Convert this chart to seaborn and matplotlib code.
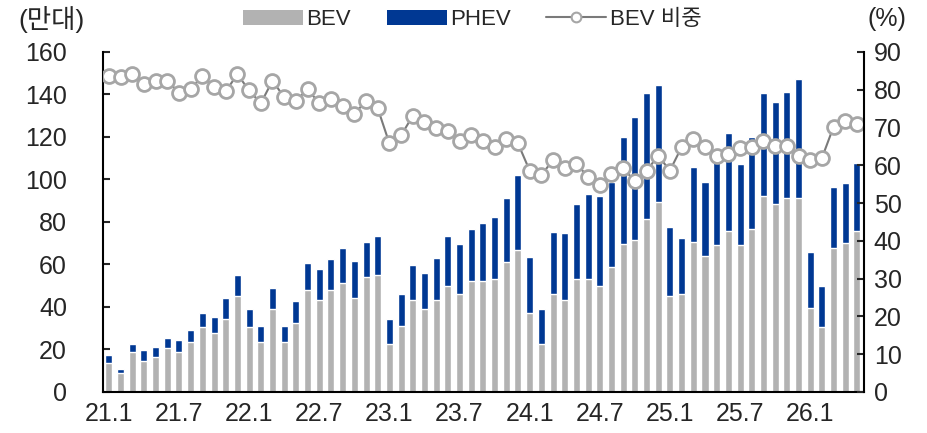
import matplotlib
matplotlib.use("Agg")
import matplotlib.pyplot as plt
from matplotlib.lines import Line2D
from matplotlib.patches import Patch
import numpy as np
import pandas as pd
import seaborn as sns

# monthly China EV sales, 10k units (만대)
years = [21, 22, 23, 24, 25, 26]
months = [f"{y}.{m}" for y in years for m in range(1, 13)][:65]

bev = [13.8, 8.8, 18.7, 14.7, 16.6, 20.5, 18.7, 23.5, 30.4, 27.6, 34.4, 45.2,
       30.4, 23.5, 39.2, 23.4, 32.3, 48.0, 43.3, 48.0, 51.1, 44.1, 54.0, 55.1,
       22.6, 31.2, 43.3, 39.2, 43.3, 50.0, 46.1, 52.1, 52.1, 53.2, 61.0, 66.8,
       37.3, 22.6, 46.1, 43.3, 53.2, 53.2, 50.0, 59.0, 69.6, 71.5, 81.4, 89.3,
       45.2, 46.1, 70.7, 64.0, 68.9, 75.8, 68.9, 76.7, 92.4, 88.5, 91.4, 91.4,
       39.4, 30.4, 67.9, 70.0, 75.8]

phev = [3.6, 1.9, 3.7, 4.8, 4.7, 4.8, 5.6, 5.7, 6.6, 7.5, 9.7, 9.7,
        8.6, 7.7, 9.6, 7.8, 10.7, 12.8, 14.4, 14.7, 16.5, 17.7, 16.7, 18.5,
        11.6, 14.8, 16.5, 16.6, 19.6, 23.6, 23.5, 24.4, 27.6, 29.3, 30.4, 35.3,
        26.4, 16.5, 29.3, 31.4, 35.1, 40.0, 42.2, 40.0, 50.2, 58.1, 59.2, 55.2,
        32.3, 26.5, 35.3, 35.0, 39.5, 45.9, 38.2, 43.1, 48.2, 48.1, 49.9, 55.9,
        26.3, 19.6, 28.4, 28.2, 32.1]

# BEV share, %
bev_share = [83.6, 83.5, 84.1, 81.4, 82.4, 82.4, 79.2, 80.2, 83.6, 80.8, 79.6, 84.1,
             79.8, 76.4, 82.4, 78.0, 77.0, 80.2, 76.4, 77.5, 75.8, 73.6, 77.0, 75.1,
             65.8, 67.9, 73.1, 71.4, 69.8, 69.2, 66.4, 68.0, 66.4, 64.8, 67.0, 65.8,
             58.6, 57.4, 61.4, 59.2, 60.3, 57.0, 54.8, 57.6, 59.2, 55.8, 58.6, 62.5,
             58.6, 64.8, 66.9, 64.8, 62.5, 63.0, 64.7, 64.8, 66.4, 65.2, 65.2, 62.5,
             61.4, 61.9, 70.2, 71.8, 70.9]

tick_labels = ["21.1", "21.7", "22.1", "22.7", "23.1", "23.7",
               "24.1", "24.7", "25.1", "25.7", "26.1"]

GRAY = "#b2b2b2"
BLUE = "#003893"
LINE = "#7a7a7a"
MARKER_EDGE = "#a6a6a6"

sns.set_style("white")
plt.rcParams["font.family"] = ["Liberation Sans", "Noto Sans CJK KR"]

df = pd.DataFrame({"month": months, "BEV": bev, "PHEV": phev, "share": bev_share})
df["total"] = df["BEV"] + df["PHEV"]

fig = plt.figure(figsize=(9.28, 4.33), dpi=100)
ax = fig.add_axes([0.111, 0.095, 0.820, 0.785])

# stacked bars: total in blue underneath, BEV in gray on top of it
sns.barplot(data=df, x="month", y="total", color=BLUE, saturation=1,
            width=0.6, ax=ax)
sns.barplot(data=df, x="month", y="BEV", color=GRAY, saturation=1,
            width=0.6, ax=ax)

ax2 = ax.twinx()
sns.lineplot(x=np.arange(len(df)), y=df["share"].to_numpy(), ax=ax2,
             color=LINE, linewidth=1.5, marker="o", markersize=10,
             markerfacecolor="white", markeredgecolor=MARKER_EDGE,
             markeredgewidth=2)

ax.set_xlim(-0.5, 64.6)
ax.set_ylim(0, 160)
ax.set_yticks(range(0, 161, 20))
ax2.set_ylim(0, 90)
ax2.set_yticks(range(0, 91, 10))

pos = [months.index(t) for t in tick_labels]
ax.set_xticks(pos)
ax.set_xticklabels(tick_labels)
ax.set_xticks(np.array(pos[1:]) - 0.5, minor=True)
ax.set_xlabel("")
ax.set_ylabel("")
ax2.set_ylabel("")

ax.tick_params(axis="x", which="major", length=0, pad=7, labelsize=18)
ax.tick_params(axis="x", which="minor", direction="in", length=5, width=1.5,
               color="black")
ax.tick_params(axis="y", direction="in", length=5, width=1.5, pad=26,
               labelsize=18, left=True)
ax2.tick_params(axis="y", direction="in", length=5, width=1.5, pad=7,
                labelsize=18, right=True)

for a in (ax, ax2):
    a.spines["top"].set_visible(False)
ax.spines["right"].set_visible(False)
for side in ("left", "bottom"):
    ax.spines[side].set_color("black")
    ax.spines[side].set_linewidth(1.5)
    ax2.spines[side].set_visible(False)
ax2.spines["right"].set_color("black")
ax2.spines["right"].set_linewidth(1.5)

fig.text(0.020, 0.955, "(만대)", fontsize=19, va="center", ha="left")
fig.text(0.977, 0.955, "(%)", fontsize=18, va="center", ha="right")

handles = [
    Patch(facecolor=GRAY, edgecolor="none", label="BEV"),
    Patch(facecolor=BLUE, edgecolor="none", label="PHEV"),
    Line2D([0], [0], color=LINE, linewidth=1.5, marker="o", markersize=7,
           markerfacecolor="white", markeredgecolor=MARKER_EDGE,
           markeredgewidth=1.5, label="BEV 비중"),
]
fig.legend(handles=handles, loc="center", bbox_to_anchor=(0.509, 0.955),
           ncol=3, frameon=False, fontsize=16, handlelength=2.7,
           handleheight=0.65, handletextpad=0.15, columnspacing=1.6,
           borderaxespad=0)

fig.savefig("out.png", dpi=100)
